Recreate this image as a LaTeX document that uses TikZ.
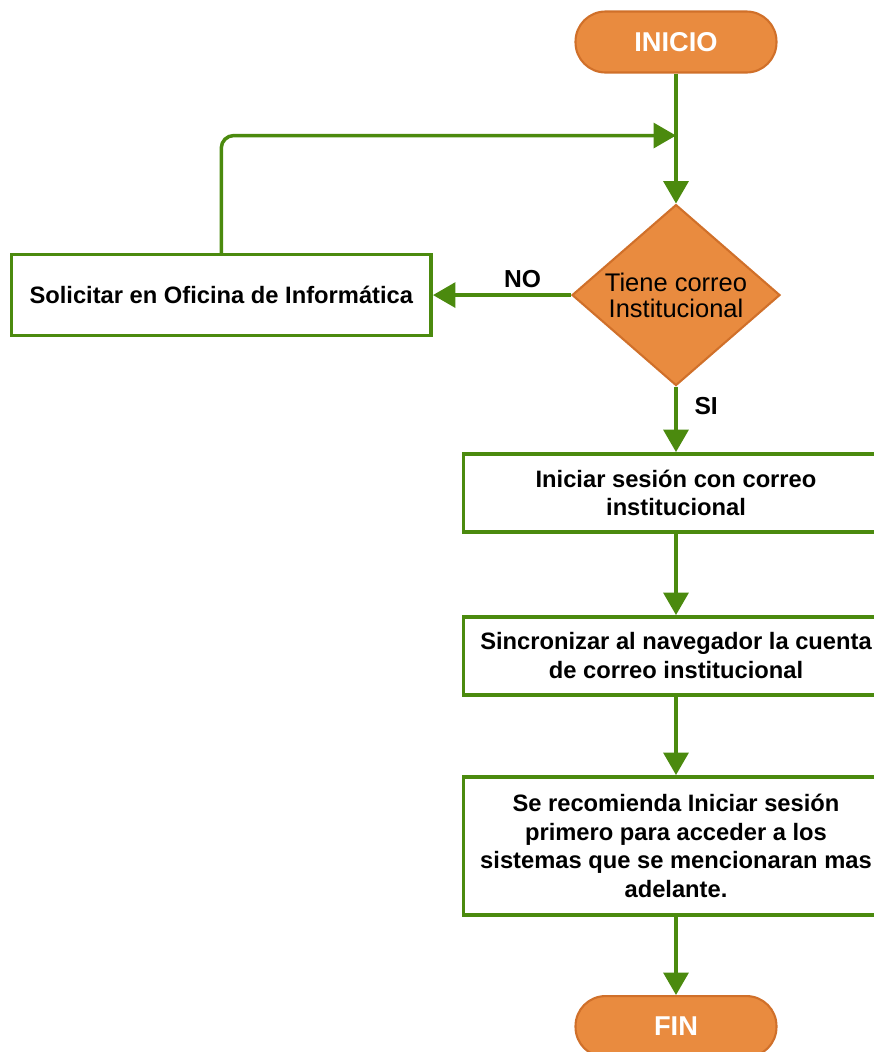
\documentclass[tikz,border=0pt]{standalone}
\usepackage{fontspec}
\setmainfont{Liberation Sans}
\usetikzlibrary{arrows.meta, positioning, shapes.geometric}
\definecolor{flowOrange}{HTML}{E98B3F}
\definecolor{flowOrangeDark}{HTML}{D0702A}
\definecolor{flowGreen}{HTML}{4B8A0E}

\begin{document}
\begin{tikzpicture}[
    x=0.02cm, y=-0.02cm,
    terminal/.style={rectangle, rounded corners=0.6cm,
      minimum width=4.02cm, minimum height=1.22cm,
      fill=flowOrange, draw=flowOrangeDark, line width=1.2pt,
      text=white, font=\fontsize{15.5}{18}\selectfont\bfseries},
    decision/.style={diamond, inner sep=0pt, aspect=1.15,
      minimum width=4.16cm, minimum height=3.62cm,
      fill=flowOrange, draw=flowOrangeDark, line width=1.2pt,
      align=center, font=\fontsize{14.5}{14.7}\selectfont},
    process/.style={rectangle, draw=flowGreen, line width=2pt, fill=white,
      minimum width=8.5cm, minimum height=1.56cm, align=center,
      font=\fontsize{13.5}{16.3}\selectfont\bfseries},
    flow/.style={draw=flowGreen, line width=2pt,
      -{Triangle[length=0.45cm, width=0.5cm]}},
    tag/.style={font=\fontsize{14}{16}\selectfont\bfseries, inner sep=1pt},
    node distance=1.57cm
  ]
    \useasboundingbox (0,0) rectangle (874,1052);

    \node[terminal] (inicio) at (676,42) {INICIO};
    \node[decision, below=2.6cm of inicio] (correo) {Tiene correo\\Institucional};
    \node[process, left=2.76cm of correo, minimum width=8.4cm, minimum height=1.62cm]
      (solicitar) {Solicitar en Oficina de Informática};
    \node[process, below=1.31cm of correo] (sesion) {Iniciar sesión con correo\\institucional};
    \node[process, below=1.63cm of sesion] (sincronizar)
      {Sincronizar al navegador la cuenta\\de correo institucional};
    \node[process, below=of sincronizar, minimum height=2.76cm] (recomienda)
      {Se recomienda Iniciar sesión\\primero para acceder a los\\sistemas que se mencionaran mas\\adelante.};
    \node[terminal, below=of recomienda] (fin) {FIN};

    \coordinate[below=1.24cm of inicio] (retorno);

    % conectores
    \draw[flow] (inicio) -- (correo);
    \draw[flow] (correo.west) -- node[tag, above, pos=0.35, yshift=2pt] {NO} (solicitar.east);
    \draw[flow, rounded corners=0.25cm] (solicitar.north) |- (retorno);
    \draw[flow] (correo.south) -- node[tag, right, pos=0.3, xshift=0.3cm] {SI} (sesion.north);
    \draw[flow] (sesion) -- (sincronizar);
    \draw[flow] (sincronizar) -- (recomienda);
    \draw[flow] (recomienda) -- (fin);
\end{tikzpicture}
\end{document}
